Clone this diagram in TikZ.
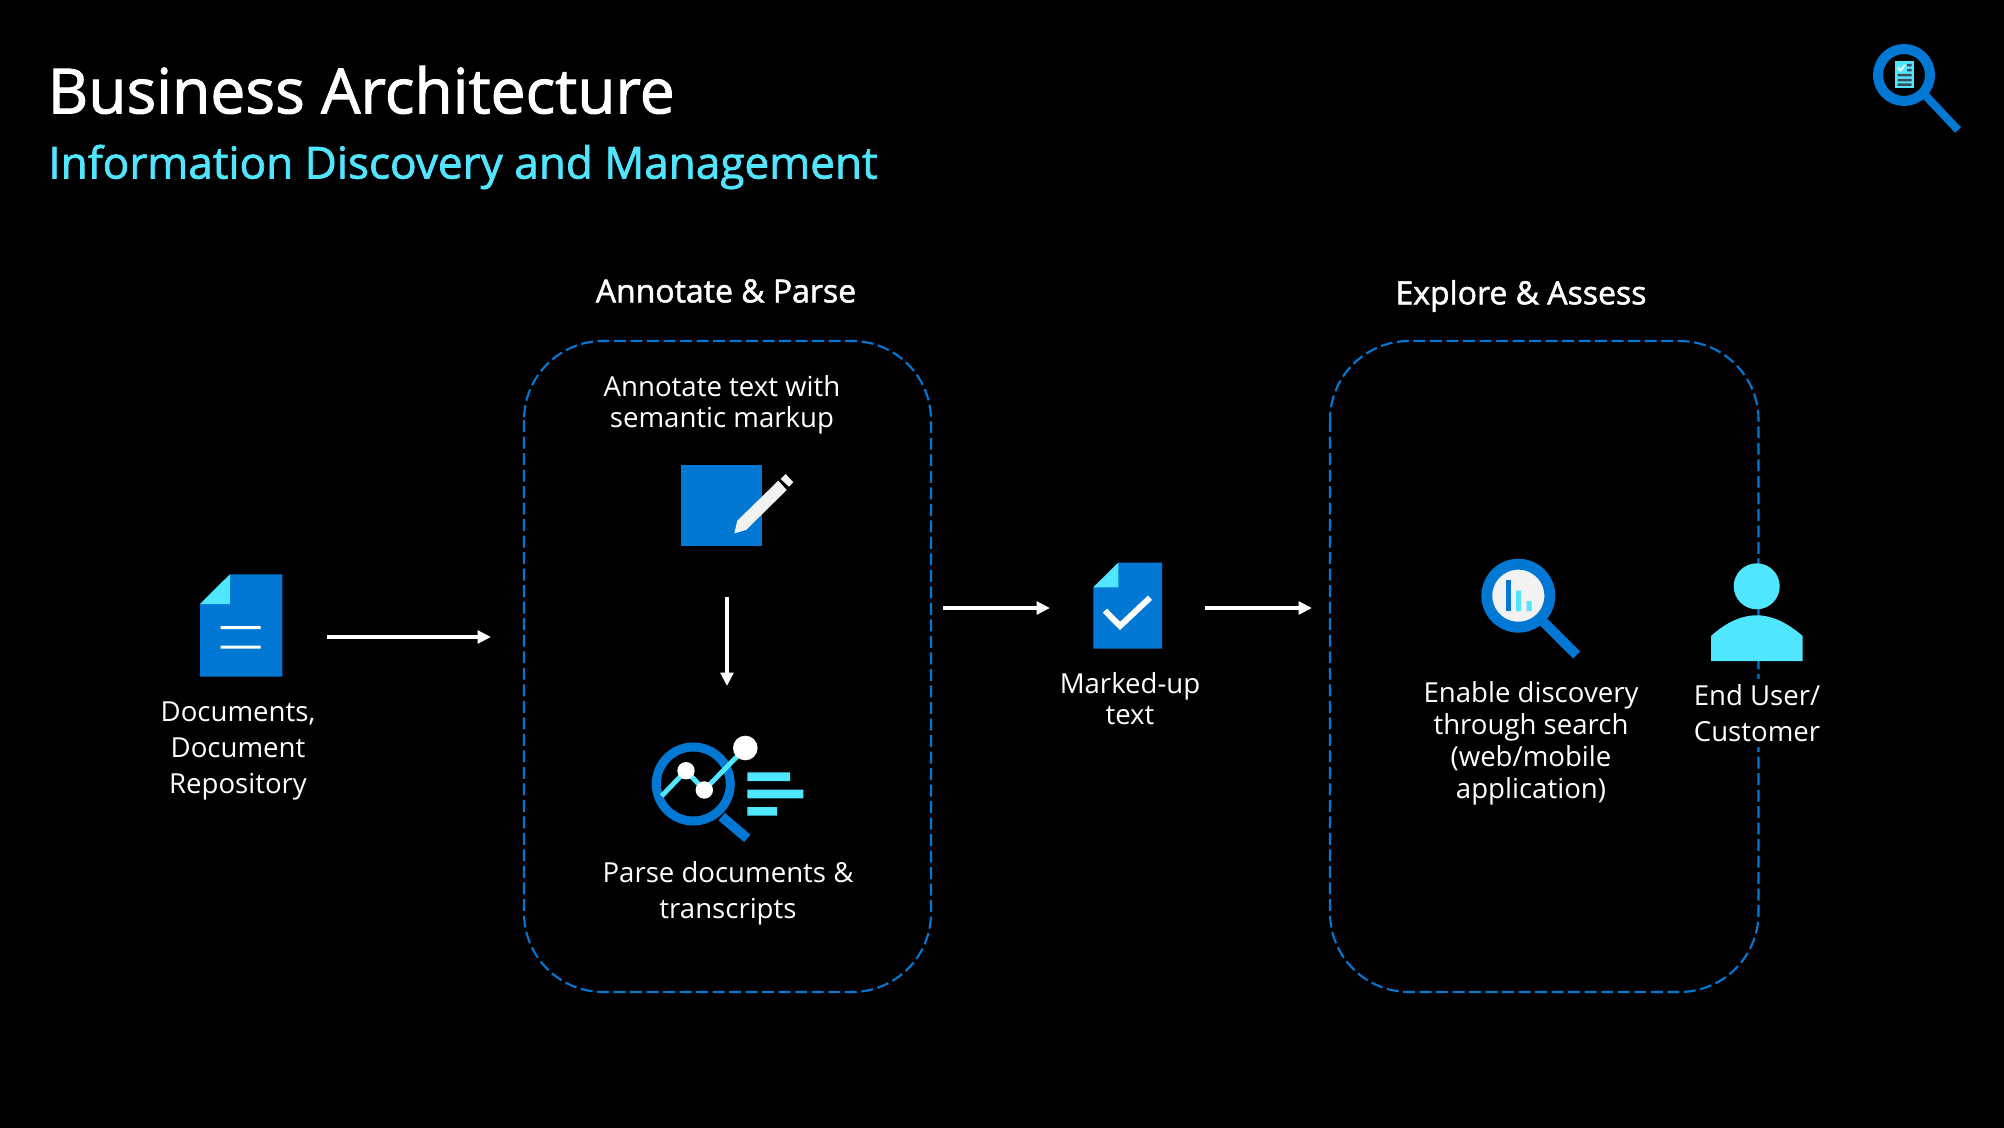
\documentclass[tikz,border=0pt]{standalone}
\usepackage{fontspec}
\setmainfont{Open Sans}
\newfontfamily\semibold[FakeBold=1.6]{Open Sans}
\usepackage{xcolor}
\usetikzlibrary{arrows.meta,positioning}
\definecolor{azure}{HTML}{0078D4}
\definecolor{cyanlt}{HTML}{50E6FF}
\definecolor{paperwht}{HTML}{F2F2F2}
\definecolor{inkdark}{HTML}{3B4A5A}

\begin{document}
\begin{tikzpicture}[
  x=0.02cm, y=-0.02cm,
  heading/.style={font=\semibold\fontsize{35.5}{40}\selectfont, text=white, inner sep=0pt, anchor=west},
  subheading/.style={font=\semibold\fontsize{25.1}{30}\selectfont, text=cyanlt, inner sep=0pt, anchor=west},
  grouplabel/.style={font=\semibold\fontsize{18.2}{22}\selectfont, text=white, inner sep=0pt},
  label/.style={font=\fontsize{15.7}{17.8}\selectfont, text=white, align=center, inner sep=0pt},
  widelabel/.style={label, font=\fontsize{15.7}{20.4}\selectfont},
  group/.style={draw=azure, dashed, dash pattern=on 6.8pt off 2.6pt, line width=1.2pt, rounded corners=45pt},
  icon/.style={inner sep=0pt, minimum width=80\pgflinewidth},
  arrow/.style={-{Triangle[length=7.6pt,width=7.2pt]}, white, line width=2.1pt},
  ring/.style={draw=azure, line width=#1},
  bar/.style={fill=cyanlt},
]
\fill[black] (0,0) rectangle (2004,1128);
\useasboundingbox (0,0) rectangle (2004,1128);

% titles
\node[heading] (title) at (47.5,90) {Business Architecture};
\node[subheading] (subtitle) at (48,167) {Information Discovery and Management};

% corner icon
\draw[azure, line width=4.6pt] (1925,95) -- (1958,130);
\draw[ring=5.7pt] (1904,75) circle (26);
\fill[cyanlt] (1895,61) rectangle (1914,88);
\draw[white, line width=1pt] (1898,68) -- (1900.5,70.5) -- (1905,65);
\fill[inkdark] (1907,64) rectangle (1911.5,66.5) (1907,69) rectangle (1911.5,71.5)
  (1897.5,74) rectangle (1911.5,76.5) (1897.5,79) rectangle (1911.5,81.5) (1897.5,83.5) rectangle (1911.5,86);

% group boxes
\draw[group] (524,341) rectangle (931,992);
\draw[group] (1330,341) rectangle (1758.5,992);
\node[grouplabel] (annotatehead) at (726,291) {Annotate \& Parse};
\node[grouplabel] (explorehead) at (1521,296) {Explore \& Assess};

% documents
\fill[azure] (200,604) -- (230,574.3) -- (282.3,574.3) -- (282.3,676.7) -- (200,676.7) -- cycle;
\fill[cyanlt] (200,604) -- (230,574.3) -- (230,604) -- cycle;
\fill[white] (220.7,626.2) rectangle (260.7,629.2) (220.7,645.5) rectangle (260.7,648.5);
\node[icon] (docs) at (238,625.5) {};
\node[widelabel, below=42.5pt of docs] (docslabel) {Documents,\\Document\\Repository};

% annotate step
\fill[azure] (681,465) rectangle (762,546);
\fill[paperwht] (734.3,533.3) -- (737.3,520.7) -- (778.3,480.7) -- (786.7,490) -- (746,530) -- cycle;
\fill[paperwht] (785.7,474) -- (793.3,482.3) -- (789,486.7) -- (780.7,479) -- cycle;
\node[icon] (annotate) at (722,505) {};
\node[label] (annotatelabel) at (722,404.5) {Annotate text with\\semantic markup};

% parse step
\draw[azure, line width=5.6pt] (721.7,816.7) -- (747.3,838.3);
\draw[ring=5.1pt] (693.3,784) circle (37);
\draw[cyanlt, line width=2.8pt] (661.7,796) -- (686,770.7) -- (704.3,790) -- (745.3,748);
\fill[white] (686,770.7) circle (8.7) (704.3,790) circle (8.7) (745.3,748) circle (12.3);
\fill[bar] (747.3,772.3) rectangle (790,781) (747.3,789.7) rectangle (803.3,798.3) (747.3,807) rectangle (777,815.7);
\node[icon] (parse) at (727,790) {};
\node[widelabel] (parselabel) at (728,893) {Parse documents \&\\transcripts};

% marked-up text
\fill[azure] (1093.3,587.3) -- (1118.3,562.7) -- (1162,562.7) -- (1162,648.7) -- (1093.3,648.7) -- cycle;
\fill[cyanlt] (1093.3,587.3) -- (1118.3,562.7) -- (1118.3,587.3) -- cycle;
\draw[white, line width=3.4pt] (1105,610.7) -- (1120,626) -- (1150,597.7);
\node[icon] (marked) at (1128,606) {};
\node[label] (markedlabel) at (1130,699) {Marked-up\\text};

% search
\draw[azure, line width=5.6pt] (1543.3,621.7) -- (1576.7,655);
\fill[paperwht] (1518.3,595.7) circle (27);
\draw[ring=6.2pt] (1518.3,595.7) circle (31.5);
\fill[azure] (1505.7,580) rectangle (1511,611);
\fill[cyanlt] (1516,590.7) rectangle (1521,611) (1526.7,601) rectangle (1531.7,611);
\node[icon] (search) at (1531,610) {};
\node[label, font=\fontsize{15.7}{18.2}\selectfont] (searchlabel) at (1531,743) {Enable discovery\\through search\\(web/mobile\\application)};

% end user
\fill[cyanlt] (1756.7,586.3) circle (23);
\fill[cyanlt] (1711,661) -- (1711,636) .. controls (1722,626) and (1738,615.3) .. (1756.7,615.3)
  .. controls (1775,615.3) and (1791,626) .. (1802.7,636) -- (1802.7,661) -- cycle;
\node[icon] (user) at (1757,625) {};
\node[widelabel, fill=black, inner ysep=3pt] (userlabel) at (1757,713) {End User/\\Customer};

% connectors
\coordinate (docsout) at (327,637);
\coordinate (annotatein) at (491,637);
\coordinate (annotateout) at (943,608);
\coordinate (markedin) at (1050,608);
\coordinate (markedout) at (1205,608);
\coordinate (explorein) at (1312,608);
\coordinate (stepout) at (727,597);
\coordinate (stepin) at (727,686);
\draw[arrow] (docsout) -- (annotatein);
\draw[arrow] (annotateout) -- (markedin);
\draw[arrow] (markedout) -- (explorein);
\draw[arrow] (stepout) -- (stepin);

\end{tikzpicture}
\end{document}
